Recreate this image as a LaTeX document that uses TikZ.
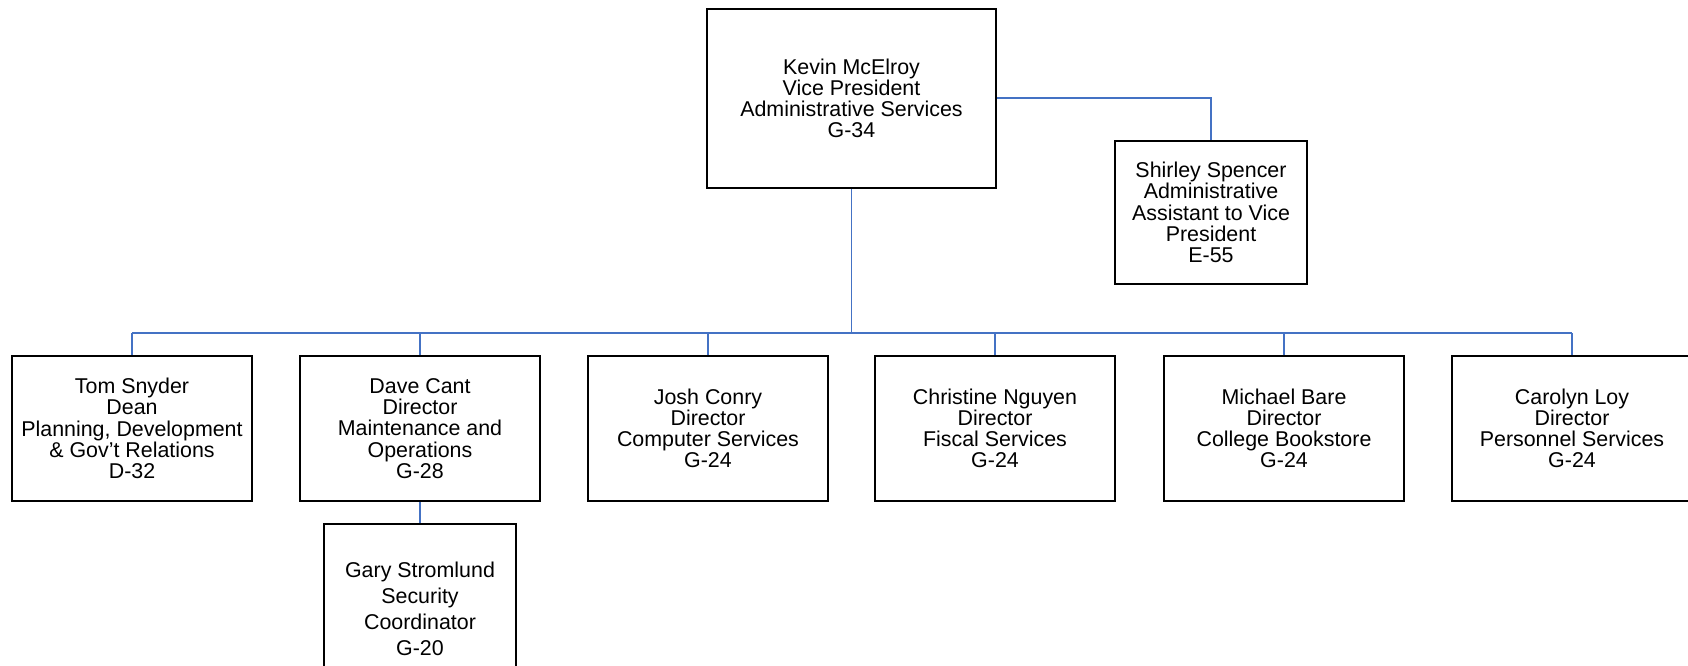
\documentclass[tikz,border=0pt]{standalone}
\usepackage{fontspec}
\setmainfont{Liberation Sans}
\begin{document}
\begin{tikzpicture}[x=1pt,y=-1pt,
  box/.style={draw=black,line width=2pt,align=center,inner sep=0pt,
    font=\fontsize{21.4}{21.2}\selectfont},
  rowbox/.style={box,minimum width=240pt,minimum height=145pt},
  conn/.style={draw={rgb,255:red,68;green,114;blue,196},line width=1.8pt}]
\useasboundingbox (0,0) rectangle (1688,665);
\clip (0,0) rectangle (1688,665);
\node[box,minimum width=289pt,minimum height=179pt] (kevin) at (851.5,98.3)
  {Kevin McElroy\\Vice President\\Administrative Services\\G-34};
\node[box,minimum width=192pt,minimum height=143pt] (shirley) at (1211,212.5)
  {Shirley Spencer\\Administrative\\Assistant to Vice\\President\\E-55};
\node[rowbox] (tom) at (132,428.5)
  {Tom Snyder\\Dean\\Planning, Development\\\& Gov’t Relations\\D-32};
\node[rowbox] (dave) at (420,428.5)
  {Dave Cant\\Director\\Maintenance and\\Operations\\G-28};
\node[rowbox] (josh) at (708,428.5)
  {Josh Conry\\Director\\Computer Services\\G-24};
\node[rowbox] (christine) at (995,428.5)
  {Christine Nguyen\\Director\\Fiscal Services\\G-24};
\node[rowbox] (michael) at (1284,428.5)
  {Michael Bare\\Director\\College Bookstore\\G-24};
\node[rowbox] (carolyn) at (1572,428.5)
  {Carolyn Loy\\Director\\Personnel Services\\G-24};
\node[box,minimum width=192pt,minimum height=170pt,
  font=\fontsize{21.4}{25.8}\selectfont] (gary) at (420,609)
  {Gary Stromlund\\Security\\Coordinator\\G-20};
\coordinate (bus) at (851.5,333);
\draw[conn] (kevin.south) -- (bus);
\draw[conn] (tom.north |- bus) -- (carolyn.north |- bus);
\foreach \n in {tom,dave,josh,christine,michael,carolyn}
  \draw[conn] (\n.north) -- (\n.north |- bus);
\draw[conn] (kevin.east) -| (shirley.north);
\draw[conn] (dave.south) -- (gary.north);
\end{tikzpicture}
\end{document}
